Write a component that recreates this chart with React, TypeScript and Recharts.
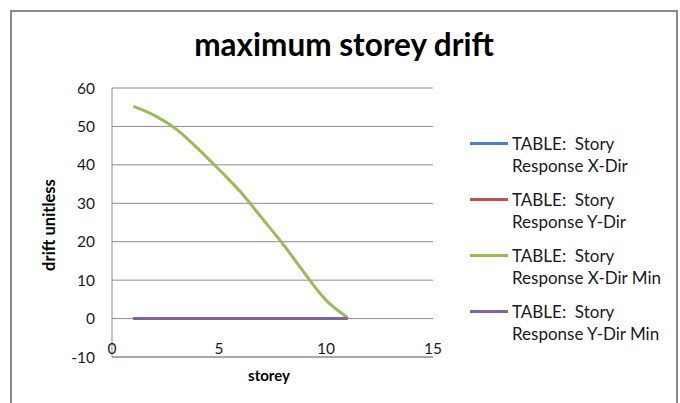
import React from 'react';
import { LineChart, Line, XAxis, YAxis, CartesianGrid } from 'recharts';

const storeys = [1, 2, 3, 4, 5, 6, 7, 8, 9, 10, 11];
const xDirDrift = [0.02, 0.02, 0.02, 0.02, 0.02, 0.02, 0.02, 0.02, 0.02, 0.01, 0.01];
const yDirDrift = [0.03, 0.03, 0.03, 0.03, 0.03, 0.03, 0.03, 0.02, 0.02, 0.02, 0.01];
const xDirMinDrift = [55.2, 52.8, 49.3, 44.3, 38.8, 33.0, 26.2, 19.3, 11.8, 4.8, 0.3];
const yDirMinDrift = [0, 0, 0, 0, 0, 0, 0, 0, 0, 0, 0];

const seriesKeys = ['xDir', 'yDir', 'xDirMin', 'yDirMin'];
const seriesNames = [
  'TABLE:  Story Response X-Dir',
  'TABLE:  Story Response Y-Dir',
  'TABLE:  Story Response X-Dir Min',
  'TABLE:  Story Response Y-Dir Min',
];
const seriesColors = ['#4F81BD', '#C0504D', '#9BBB59', '#8064A2'];

const yTicks = [-10, 0, 10, 20, 30, 40, 50, 60];
const xTicks = [0, 5, 10, 15];

const data = storeys.map((s, i) => ({
  storey: s,
  xDir: xDirDrift[i],
  yDir: yDirDrift[i],
  xDirMin: xDirMinDrift[i],
  yDirMin: yDirMinDrift[i],
}));

const FONT = 'Lato, "Open Sans", sans-serif';

const XTick = (props: any) => {
  const { x, y, payload } = props;
  return (
    <text x={x} y={y - 3} textAnchor="middle" fontFamily={FONT} fontSize={15.5} fill="#1a1a1a">
      {payload.value}
    </text>
  );
};

const LegendBox = () => (
  <div
    style={{
      position: 'absolute',
      left: 470,
      top: 133,
      fontFamily: FONT,
      fontSize: 17,
      color: '#1a1a1a',
    }}
  >
    {seriesNames.map((name, i) => {
      const idx = name.indexOf('Response');
      const l1 = name.slice(0, idx).trimEnd();
      const l2 = name.slice(idx);
      return (
        <div key={i} style={{ position: 'relative', height: 56, width: 200 }}>
          <div
            style={{
              position: 'absolute',
              left: 0,
              top: 9,
              width: 38,
              height: 3,
              background: seriesColors[i],
            }}
          />
          <div
            style={{
              position: 'absolute',
              left: 42,
              top: 0,
              lineHeight: '21.5px',
              whiteSpace: 'pre',
            }}
          >
            {l1}
            <br />
            {l2}
          </div>
        </div>
      );
    })}
  </div>
);

export default function App() {
  return (
    <div
      style={{
        position: 'absolute',
        left: 0,
        top: 0,
        width: 680,
        height: 403,
        background: '#fff',
        overflow: 'hidden',
      }}
    >
      <div
        style={{
          position: 'absolute',
          left: 10,
          top: 10,
          width: 668,
          height: 400,
          border: '2px solid #888',
          boxSizing: 'border-box',
        }}
      />
      <div
        style={{
          position: 'absolute',
          left: 0,
          width: 688,
          top: 25,
          textAlign: 'center',
          fontFamily: FONT,
          fontWeight: 'bold',
          fontSize: 31.5,
          color: '#000',
          lineHeight: '38px',
        }}
      >
        maximum storey drift
      </div>
      <div
        style={{
          position: 'absolute',
          left: 49,
          top: 225,
          transform: 'translate(-50%, -50%) rotate(-90deg)',
          fontFamily: FONT,
          fontWeight: 'bold',
          fontSize: 16.5,
          color: '#000',
          whiteSpace: 'nowrap',
        }}
      >
        drift unitless
      </div>
      <div
        style={{
          position: 'absolute',
          left: 269,
          top: 375,
          transform: 'translate(-50%, -50%)',
          fontFamily: FONT,
          fontWeight: 'bold',
          fontSize: 15,
          color: '#000',
          whiteSpace: 'nowrap',
        }}
      >
        storey
      </div>
      <div style={{ position: 'absolute', left: 0, top: 0 }}>
        <LineChart
          width={680}
          height={403}
          data={data}
          margin={{ top: 88, right: 247, bottom: 26, left: 52 }}
        >
          <CartesianGrid horizontal={true} vertical={false} stroke="#8c8c8c" strokeWidth={1} />
          <XAxis
            dataKey="storey"
            type="number"
            domain={[0, 15]}
            ticks={xTicks}
            height={20}
            tickSize={0}
            tickMargin={0}
            tickLine={false}
            axisLine={{ stroke: '#8c8c8c', strokeWidth: 1 }}
            tick={<XTick />}
            interval={0}
          />
          <YAxis
            type="number"
            domain={[-10, 60]}
            ticks={yTicks}
            width={60}
            tickSize={0}
            tickMargin={17}
            tickLine={false}
            axisLine={{ stroke: '#8c8c8c', strokeWidth: 1 }}
            tick={{ fontFamily: FONT, fontSize: 15.5, fill: '#1a1a1a' }}
            interval={0}
          />
          {seriesKeys.map((k, i) => (
            <Line
              key={k}
              type="monotone"
              dataKey={k}
              name={seriesNames[i]}
              stroke={seriesColors[i]}
              strokeWidth={3}
              dot={false}
              isAnimationActive={false}
            />
          ))}
        </LineChart>
      </div>
      <LegendBox />
    </div>
  );
}
